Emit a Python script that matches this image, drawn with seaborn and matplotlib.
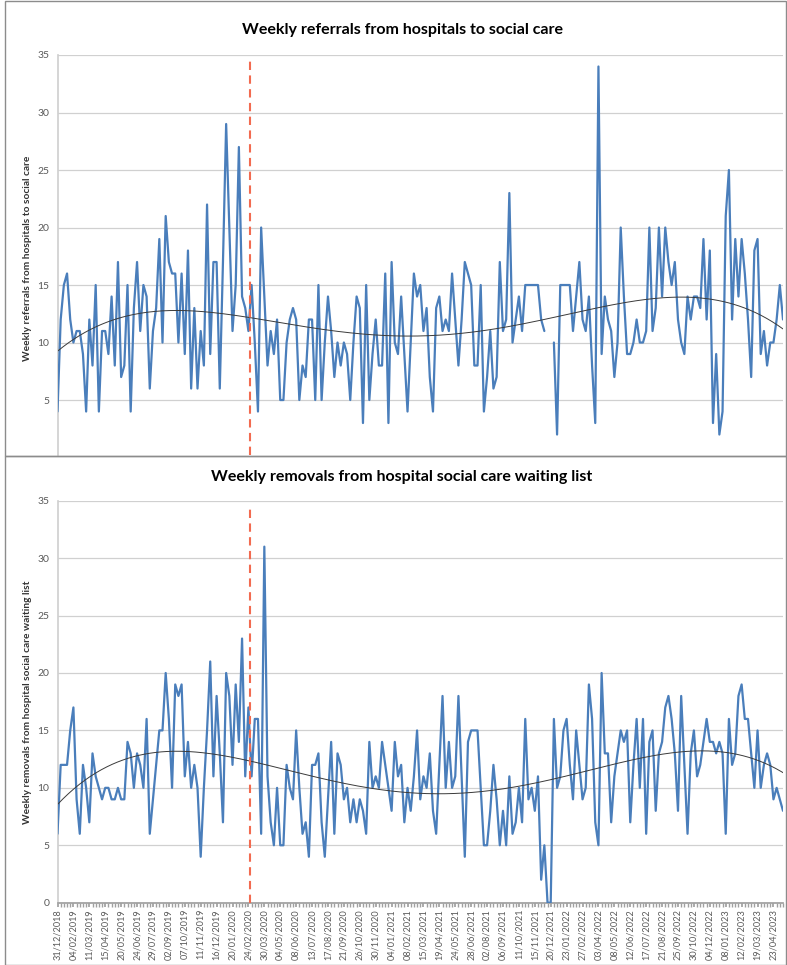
import numpy as np
import pandas as pd
import matplotlib
matplotlib.use("Agg")
import matplotlib.pyplot as plt
import seaborn as sns
from matplotlib.patches import Rectangle

nan = np.nan

# ---------------- data ----------------
referrals = [
    4, 12, 15, 16, 12, 10, 11, 11, 9, 4,
    12, 8, 15, 4, 11, 11, 9, 14, 8, 17,
    7, 8, 15, 4, 13, 17, 11, 15, 14, 6,
    11, 13, 19, 10, 21, 17, 16, 16, 10, 16,
    9, 18, 6, 13, 6, 11, 8, 22, 9, 17,
    17, 6, 17, 29, 20, 11, 15, 27, 14, 13,
    11, 15, 10, 4, 20, 14, 8, 11, 9, 12,
    5, 5, 10, 12, 13, 12, 5, 8, 7, 12,
    12, 5, 15, 5, 10, 14, 11, 7, 10, 8,
    10, 9, 5, 10, 14, 13, 3, 15, 5, 9,
    12, 8, 8, 16, 3, 17, 10, 9, 14, 9,
    4, 10, 16, 14, 15, 11, 13, 7, 4, 13,
    14, 11, 12, 11, 16, 12, 8, 12, 17, 16,
    15, 8, 8, 15, 4, 7, 11, 6, 7, 17,
    11, 12, 23, 10, 12, 14, 11, 15, 15, 15,
    15, 15, 12, 11, nan, nan, 10, 2, 15, 15,
    15, 15, 11, 14, 17, 12, 11, 14, 8, 3,
    34, 9, 14, 12, 11, 7, 10, 20, 14, 9,
    9, 10, 12, 10, 10, 11, 20, 11, 13, 20,
    14, 20, 17, 15, 17, 12, 10, 9, 14, 12,
    14, 14, 13, 19, 12, 18, 3, 9, 2, 4,
    21, 25, 12, 19, 14, 19, 16, 12, 7, 18,
    19, 9, 11, 8, 10, 10, 12, 15, 12,
]

removals = [
    6, 12, 12, 12, 15, 17, 9, 6, 12, 10,
    7, 13, 11, 10, 9, 10, 10, 9, 9, 10,
    9, 9, 14, 13, 10, 13, 12, 10, 16, 6,
    9, 12, 15, 15, 20, 16, 10, 19, 18, 19,
    11, 14, 10, 12, 10, 4, 10, 15, 21, 11,
    18, 13, 7, 20, 18, 12, 19, 14, 23, 11,
    17, 11, 16, 16, 6, 31, 11, 7, 5, 10,
    5, 5, 12, 10, 9, 15, 10, 6, 7, 4,
    12, 12, 13, 7, 4, 9, 14, 6, 13, 12,
    9, 10, 7, 9, 7, 9, 8, 6, 14, 10,
    11, 10, 14, 12, 10, 8, 14, 11, 12, 7,
    10, 8, 11, 15, 9, 11, 10, 13, 8, 6,
    12, 18, 10, 14, 10, 11, 18, 11, 4, 14,
    15, 15, 15, 10, 5, 5, 8, 12, 9, 5,
    8, 5, 11, 6, 7, 10, 7, 16, 9, 10,
    8, 11, 2, 5, 0, 0, 16, 10, 11, 15,
    16, 12, 9, 15, 12, 9, 10, 19, 16, 7,
    5, 20, 13, 13, 7, 11, 13, 15, 14, 15,
    7, 12, 16, 10, 16, 6, 14, 15, 8, 13,
    14, 17, 18, 16, 13, 8, 18, 12, 6, 13,
    15, 11, 12, 14, 16, 14, 14, 13, 14, 13,
    6, 16, 12, 13, 18, 19, 16, 16, 13, 10,
    15, 10, 12, 13, 12, 9, 10, 9, 8,
]

tick_labels = [
    "31/12/2018", "04/02/2019", "11/03/2019", "15/04/2019", "20/05/2019",
    "24/06/2019", "29/07/2019", "02/09/2019", "07/10/2019", "11/11/2019",
    "16/12/2019", "20/01/2020", "24/02/2020", "30/03/2020", "04/05/2020",
    "08/06/2020", "13/07/2020", "17/08/2020", "21/09/2020", "26/10/2020",
    "30/11/2020", "04/01/2021", "08/02/2021", "15/03/2021", "19/04/2021",
    "24/05/2021", "28/06/2021", "02/08/2021", "06/09/2021", "11/10/2021",
    "15/11/2021", "20/12/2021", "23/01/2022", "27/02/2022", "03/04/2022",
    "08/05/2022", "12/06/2022", "17/07/2022", "21/08/2022", "25/09/2022",
    "30/10/2022", "04/12/2022", "08/01/2023", "12/02/2023", "19/03/2023",
    "23/04/2023",
]
label_step = 5          # one label every 5 weeks
lockdown_week = 60.6    # red dashed marker position (week index)
trend_order = 4

titles = ["Weekly referrals from hospitals to social care",
          "Weekly removals from hospital social care waiting list"]
ylabels = ["Weekly referrals from hospitals to social care",
           "Weekly removals from hospital social care waiting list"]

# ---------------- style ----------------
sns.set_theme(style="white")
plt.rcParams['font.family'] = ['Lato', 'DejaVu Sans']

W, H = 787, 965
fig = plt.figure(figsize=(W / 100, H / 100), dpi=100)


def fx(px):
    return px / W


def fy(py):
    return 1 - py / H


LINE = "#4A7EBB"
GRID = "#D0D0D0"
TXT = "#595959"
BORDER = "#8C8C8C"

# panel frames
fig.patches.append(Rectangle((fx(5), fy(456)), fx(786) - fx(5), fy(0.5) - fy(456),
                             transform=fig.transFigure, fill=False,
                             edgecolor=BORDER, linewidth=1.0, zorder=0))
fig.patches.append(Rectangle((fx(5), fy(964.5)), fx(786) - fx(5), fy(456) - fy(964.5),
                             transform=fig.transFigure, fill=False,
                             edgecolor=BORDER, linewidth=1.0, zorder=0))

n = len(referrals)
weeks = np.arange(n)

ax1 = fig.add_axes([fx(57.5), fy(455), fx(783) - fx(57.5), fy(55) - fy(455)])
ax2 = fig.add_axes([fx(57.5), fy(902.7), fx(783) - fx(57.5), fy(500.7) - fy(902.7)])


def draw(ax, values, ylow, show_x):
    vals = np.array(values, dtype=float)
    seg = np.cumsum(np.isnan(vals))
    df = pd.DataFrame({"week": weeks, "value": vals, "segment": seg}).dropna()
    sns.lineplot(data=df, x="week", y="value", units="segment", estimator=None,
                 color=LINE, linewidth=1.6, ax=ax, legend=False, zorder=3)
    ok = ~np.isnan(vals)
    coef = np.polyfit(weeks[ok], vals[ok], trend_order)
    tx = np.linspace(0, n - 1, 400)
    tdf = pd.DataFrame({"week": tx, "trend": np.polyval(coef, tx)})
    sns.lineplot(data=tdf, x="week", y="trend", color="#3A3A3A", linewidth=0.7,
                 ax=ax, legend=False, zorder=4)
    ax.axvline(lockdown_week, ymin=0, ymax=0.985, color="#F26B50",
               linestyle=(0, (4, 2.6)), linewidth=1.5, zorder=5)
    ax.set_xlim(0, n - 1)
    ax.set_ylim(ylow, 35)
    ax.set_yticks(range(0 if show_x else 5, 36, 5))
    ax.yaxis.grid(True, color=GRID, linewidth=0.9)
    ax.xaxis.grid(False)
    for s in ["top", "right"]:
        ax.spines[s].set_visible(False)
    ax.spines["left"].set_color(GRID)
    ax.spines["bottom"].set_color("#A0A0A0")
    ax.tick_params(axis="y", labelsize=7.5, labelcolor=TXT, length=0, pad=6)
    ax.set_xlabel("")
    ax.set_ylabel("")
    if show_x:
        ax.set_xticks(np.arange(0, len(tick_labels) * label_step, label_step))
        ax.set_xticklabels(tick_labels, rotation=90, fontsize=6.6, color=TXT)
        ax.set_xticks(weeks, minor=True)
        ax.tick_params(axis="x", which="major", length=3, color="#A0A0A0",
                       direction="out", pad=1.5, bottom=True)
        ax.tick_params(axis="x", which="minor", length=3, color="#A0A0A0",
                       direction="out", bottom=True)
    else:
        ax.set_xticks([])
        ax.spines["bottom"].set_visible(False)


draw(ax1, referrals, 0.22, False)
draw(ax2, removals, 0, True)

fig.text(fx(402), fy(30), titles[0], ha="center", va="center",
         fontsize=11.5, fontweight="bold", color="black")
fig.text(fx(402), fy(477), titles[1], ha="center", va="center",
         fontsize=11.5, fontweight="bold", color="black")
fig.text(fx(28), fy(258), ylabels[0], rotation=90, ha="center", va="center",
         fontsize=7.3, fontweight="bold", color="#333333")
fig.text(fx(28), fy(702), ylabels[1], rotation=90, ha="center", va="center",
         fontsize=7.3, fontweight="bold", color="#333333")

fig.savefig("out.png", dpi=100)
